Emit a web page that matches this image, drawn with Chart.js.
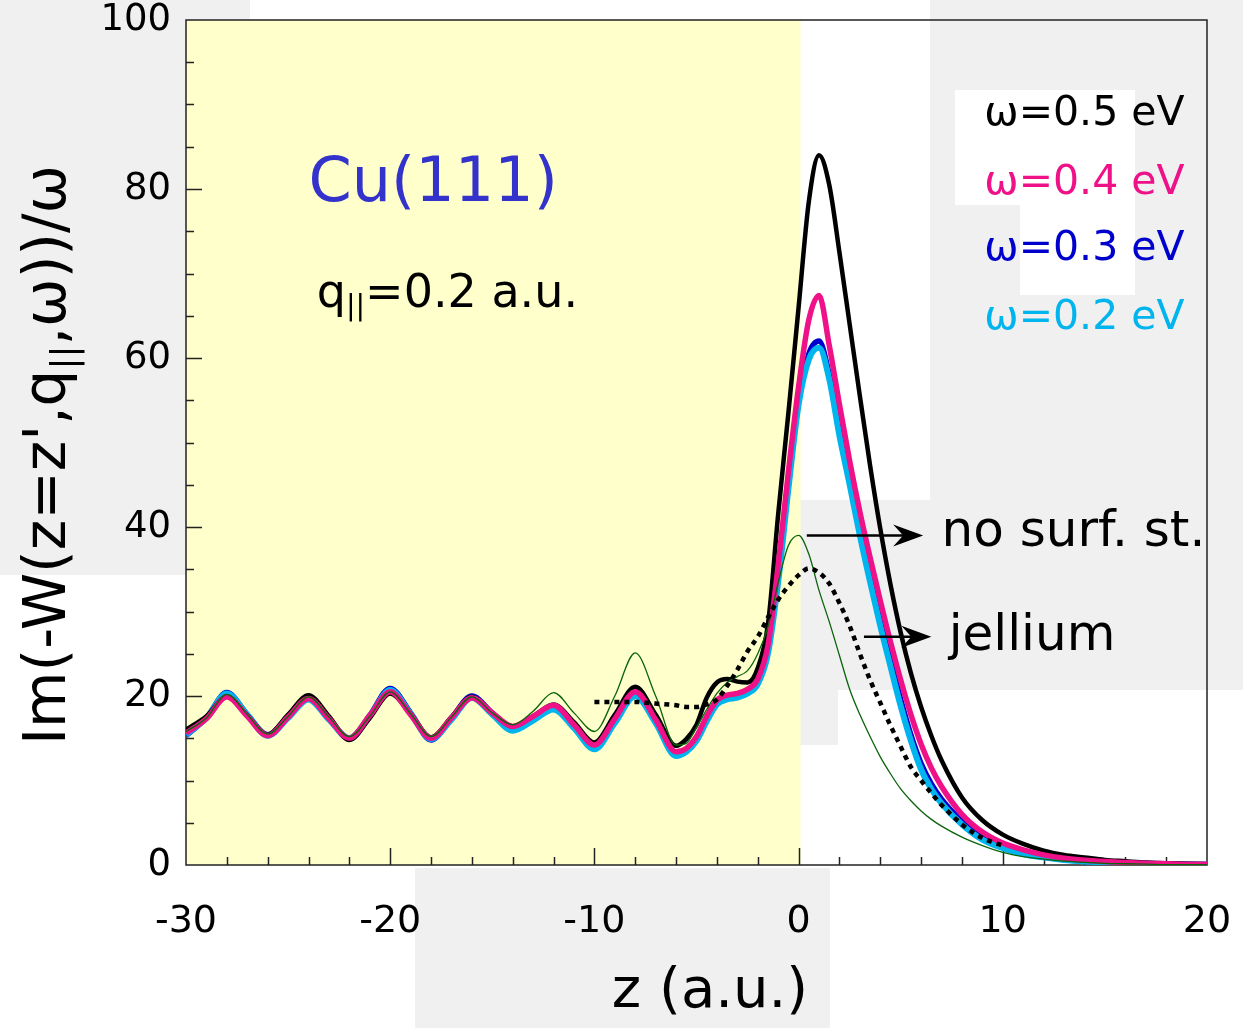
<!DOCTYPE html>
<html>
<head>
<meta charset="utf-8">
<title>Cu(111) screened interaction</title>
<script src="https://cdn.jsdelivr.net/npm/chart.js@4.4.1/dist/chart.umd.min.js"></script>
<style>
  html, body { margin: 0; padding: 0; background: #fff; }
  #wrap { width: 1243px; height: 1028px; }
</style>
</head>
<body>
<div id="wrap"><canvas id="myChart" width="1243" height="1028"></canvas></div>
<script>
// z grid (a.u.) shared by the four omega curves and the no-surface-state curve
const zAxis = [
  -30, -29, -28, -27, -26, -25, -24, -23, -22, -21, -20, -19, -18, -17, -16, -15, -14, -13, -12, -11, -10, -9, -8, -7, -6,
  -5.5, -5, -4.5, -4, -3.5, -3, -2.5, -2, -1.5, -1, -0.5, 0, 0.5, 1, 1.5, 2, 2.5, 3, 3.5, 4, 4.5, 5, 5.5, 6, 6.5, 7,
  8, 9, 10, 11, 12, 13, 14, 15, 16, 17, 18, 19, 20
];

const omega05 = [
  16.0, 17.6, 19.9, 17.7, 15.4, 17.8, 20.1, 17.6, 14.8, 17.4, 20.3, 17.9, 15.1, 17.5, 19.9, 18.0, 16.4, 17.6, 19.0, 16.9, 14.5, 17.8, 21.1, 17.8, 14.1,
  14.9, 16.6, 19.8, 21.6, 22.0, 21.7, 21.6, 23.3, 28.5, 41.5, 53.5, 66.0, 78.5, 84.0, 80.5, 72.5, 64.0, 55.5, 47.3, 39.8, 33.2, 27.5, 22.7, 18.7, 15.3, 12.4,
  8.0, 5.3, 3.6, 2.5, 1.7, 1.2, 0.9, 0.6, 0.45, 0.3, 0.2, 0.15, 0.1
];
const omega04 = [
  15.6, 17.3, 19.9, 17.6, 15.3, 17.5, 19.7, 17.3, 15.0, 17.7, 20.5, 17.8, 15.0, 17.4, 19.8, 18.0, 16.4, 17.6, 18.9, 16.6, 14.2, 17.3, 20.5, 17.2, 13.4,
  13.8, 15.2, 17.6, 19.5, 20.1, 20.3, 20.8, 22.0, 26.0, 35.5, 46.5, 56.6, 64.5, 67.4, 61.5, 54.5, 47.8, 41.8, 36.4, 31.3, 26.4, 21.9, 17.8, 14.3, 11.5, 9.3,
  6.0, 3.9, 2.6, 1.8, 1.2, 0.8, 0.55, 0.4, 0.3, 0.2, 0.15, 0.1, 0.1
];
const omega03 = [
  15.3, 17.4, 20.4, 17.8, 15.4, 17.6, 19.9, 17.4, 14.9, 17.7, 20.9, 18.0, 14.8, 17.4, 20.0, 18.0, 16.2, 17.3, 18.8, 16.5, 14.0, 17.1, 20.3, 17.0, 13.1,
  13.6, 15.0, 17.3, 19.3, 19.9, 20.1, 20.6, 21.7, 25.5, 34.0, 45.0, 55.0, 60.5, 62.0, 58.0, 51.5, 45.8, 39.8, 34.2, 29.0, 24.2, 19.6, 15.4, 12.0, 9.6, 7.8,
  5.2, 3.3, 2.1, 1.4, 0.95, 0.65, 0.45, 0.32, 0.23, 0.17, 0.12, 0.08, 0.05
];
const omega02 = [
  15.4, 17.4, 20.3, 17.8, 15.3, 17.4, 19.6, 17.2, 15.0, 17.6, 20.7, 17.9, 14.9, 17.2, 19.8, 17.8, 15.9, 17.1, 18.4, 16.2, 13.7, 16.8, 20.0, 16.8, 12.9,
  13.4, 14.7, 17.0, 19.0, 19.6, 19.8, 20.3, 21.4, 25.0, 33.5, 44.5, 54.5, 59.8, 61.2, 57.5, 50.8, 45.0, 39.0, 33.5, 28.3, 23.5, 18.8, 14.7, 11.3, 9.0, 7.3,
  4.8, 3.0, 2.0, 1.3, 0.9, 0.6, 0.42, 0.3, 0.22, 0.16, 0.11, 0.08, 0.05
];
const noSurfState = [
  15.8, 17.4, 20.2, 17.8, 15.5, 17.6, 19.9, 17.5, 15.2, 17.6, 20.5, 17.9, 15.2, 17.5, 19.9, 18.0, 16.6, 18.2, 20.4, 18.0, 15.8, 20.0, 25.1, 20.0, 14.2,
  14.4, 16.3, 18.4, 20.3, 21.6, 22.3, 23.0, 25.0, 28.2, 33.4, 37.8, 39.0, 36.8, 32.5, 28.8, 24.8, 20.8, 17.8, 15.2, 12.8, 10.8, 9.0, 7.6, 6.4, 5.4, 4.6,
  3.3, 2.3, 1.5, 1.0, 0.7, 0.45, 0.3, 0.2, 0.15, 0.1, 0.05, 0.05, 0.05
];

// jellium model, only drawn from z = -10 to 10
const zJellium = [
  -10, -9, -8, -7, -6, -5.5, -5, -4.5, -4, -3.5, -3, -2.5, -2, -1.5, -1, -0.5, 0, 0.5, 1, 1.5, 2,
  2.5, 3, 3.5, 4, 4.5, 5, 5.5, 6, 6.5, 7, 7.5, 8, 8.5, 9, 9.5, 10
];
const jellium = [
  19.3, 19.3, 19.3, 19.1, 18.9, 18.7, 18.7, 19.0, 19.6, 21.2, 23.1, 25.3, 27.0, 29.3, 31.4, 33.0, 34.3, 35.1, 34.6, 33.3, 31.0,
  28.3, 25.0, 21.9, 19.2, 16.5, 14.0, 11.6, 10.0, 8.5, 7.1, 5.9, 4.8, 3.9, 3.2, 2.7, 2.3
];

const omegaLabels = ['ω=0.5 eV', 'ω=0.4 eV', 'ω=0.3 eV', 'ω=0.2 eV'];
const omegaColors = ['#000000', '#ee1188', '#0000cc', '#00b4ee'];
const xTicks = [-30, -20, -10, 0, 10, 20];
const yTicks = [0, 20, 40, 60, 80, 100];
const metalEdge = [-30, 0];   // bulk side of the surface (shaded)

const FONT = "'DejaVu Sans', sans-serif";

const pts = (xs, ys) => xs.map((x, i) => ({ x, y: ys[i] }));

function arrow(ctx, x0, y, x1) {
  ctx.beginPath();
  ctx.moveTo(x0, y);
  ctx.lineTo(x1 - 10, y);
  ctx.lineWidth = 2.5;
  ctx.strokeStyle = '#000';
  ctx.stroke();
  ctx.beginPath();
  ctx.moveTo(x1, y);
  ctx.lineTo(x1 - 30, y - 11);
  ctx.lineTo(x1 - 20, y);
  ctx.lineTo(x1 - 30, y + 11);
  ctx.closePath();
  ctx.fillStyle = '#000';
  ctx.fill();
}

// text runs with optional subscripts: [[text, isSub], ...]
function runsWidth(ctx, runs, size) {
  let w = 0;
  runs.forEach(([t, sub]) => {
    ctx.font = `${sub ? size * 0.62 : size}px ${FONT}`;
    w += ctx.measureText(t).width;
  });
  return w;
}
function drawRuns(ctx, runs, x, y, size) {
  runs.forEach(([t, sub]) => {
    ctx.font = `${sub ? size * 0.62 : size}px ${FONT}`;
    ctx.fillText(t, x, sub ? y + size * 0.28 : y);
    x += ctx.measureText(t).width;
  });
}

const backdrop = {
  id: 'backdrop',
  beforeDraw(chart) {
    const { ctx, chartArea: a, scales: { x } } = chart;
    ctx.save();
    ctx.fillStyle = '#ffffff';
    ctx.fillRect(0, 0, chart.width, chart.height);
    // pale logo blocks in the page background
    ctx.fillStyle = '#f0f0f0';
    [[0, 0, 186, 575], [0, 0, 250, 20], [930, 0, 313, 690], [800, 500, 130, 190],
     [800, 500, 38, 245], [415, 868, 415, 160]].forEach(r => ctx.fillRect(...r));
    ctx.fillStyle = '#ffffff';
    ctx.fillRect(955, 90, 180, 115);
    ctx.fillRect(1020, 200, 115, 95);
    // metal side
    const x0 = x.getPixelForValue(metalEdge[0]);
    const x1 = x.getPixelForValue(metalEdge[1]);
    ctx.fillStyle = '#ffffcc';
    ctx.fillRect(x0, a.top, x1 - x0 + 2, a.bottom - a.top);
    ctx.restore();
  }
};

const frame = {
  id: 'frame',
  beforeDatasetsDraw(chart) {
    const { ctx, chartArea: a, scales: { x, y } } = chart;
    ctx.save();
    ctx.strokeStyle = '#222';
    ctx.lineWidth = 1.5;
    ctx.strokeRect(a.left, a.top, a.right - a.left, a.bottom - a.top);
    ctx.beginPath();
    for (let v = -28; v < 20; v += 2) {
      const px = Math.round(x.getPixelForValue(v)) + 0.5;
      const len = v % 10 === 0 ? 17 : 8;
      ctx.moveTo(px, a.bottom);
      ctx.lineTo(px, a.bottom - len);
    }
    for (let v = 5; v < 100; v += 5) {
      const py = Math.round(y.getPixelForValue(v)) + 0.5;
      const len = v % 20 === 0 ? 16 : 8;
      ctx.moveTo(a.left, py);
      ctx.lineTo(a.left + len, py);
    }
    ctx.stroke();
    ctx.restore();
  }
};

const labels = {
  id: 'labels',
  afterDraw(chart) {
    const { ctx, scales: { x, y } } = chart;
    ctx.save();
    ctx.textBaseline = 'middle';

    // frequency legend
    ctx.textAlign = 'right';
    ctx.font = `41px ${FONT}`;
    const legendY = [88.8, 80.7, 72.9, 64.7];
    omegaLabels.forEach((t, i) => {
      ctx.fillStyle = omegaColors[i];
      ctx.fillText(t, x.getPixelForValue(18.9), y.getPixelForValue(legendY[i]));
    });

    // surface label and parallel momentum
    ctx.textAlign = 'left';
    ctx.fillStyle = '#3333cc';
    ctx.font = `62px ${FONT}`;
    ctx.fillText('Cu(111)', x.getPixelForValue(-24.0), y.getPixelForValue(80.5));
    ctx.fillStyle = '#000';
    drawRuns(ctx, [['q', false], ['||', true], ['=0.2 a.u.', false]],
      x.getPixelForValue(-23.6), y.getPixelForValue(67.5), 46);

    // curve callouts
    const yA = y.getPixelForValue(39.0);
    arrow(ctx, x.getPixelForValue(0.4), yA, x.getPixelForValue(6.1));
    ctx.font = `50px ${FONT}`;
    ctx.fillStyle = '#000';
    ctx.fillText('no surf. st.', x.getPixelForValue(7.0), yA - 2);
    const yB = y.getPixelForValue(27.0);
    arrow(ctx, x.getPixelForValue(3.2), yB, x.getPixelForValue(6.5));
    ctx.font = `50px ${FONT}`;
    ctx.fillStyle = '#000';
    ctx.fillText('jellium', x.getPixelForValue(7.35), yB);

    // axis titles
    ctx.textAlign = 'center';
    ctx.font = `56px ${FONT}`;
    ctx.fillText('z (a.u.)', 710, 992);

    const title = [['Im(-W(z=z\',q', false], ['||', true], [',ω))/ω', false]];
    const size = 58;
    const w = runsWidth(ctx, title, size);
    ctx.translate(50, 455);
    ctx.rotate(-Math.PI / 2);
    ctx.textAlign = 'left';
    drawRuns(ctx, title, -w / 2, 0, size);
    ctx.restore();
  }
};

const ctx = document.getElementById('myChart').getContext('2d');

const thick = (label, data, color, width, order) => ({
  label, data: pts(zAxis, data), borderColor: color, borderWidth: width, order,
  cubicInterpolationMode: 'monotone', pointRadius: 0, fill: false
});

new Chart(ctx, {
  type: 'line',
  data: {
    datasets: [
      {
        label: 'jellium', data: pts(zJellium, jellium), borderColor: '#000', borderWidth: 4.5,
        borderDash: [5, 5], borderCapStyle: 'butt', cubicInterpolationMode: 'monotone',
        pointRadius: 0, order: 0
      },
      thick('no surf. st.', noSurfState, '#0a640a', 1.3, 1),
      thick(omegaLabels[1], omega04, omegaColors[1], 5.5, 2),
      thick(omegaLabels[0], omega05, omegaColors[0], 4.5, 3),
      thick(omegaLabels[3], omega02, omegaColors[3], 6, 4),
      thick(omegaLabels[2], omega03, omegaColors[2], 5.5, 5)
    ]
  },
  options: {
    responsive: false,
    animation: false,
    devicePixelRatio: 1,
    layout: { padding: { top: 20, right: 36, left: 0, bottom: 0 } },
    plugins: { legend: { display: false }, tooltip: { enabled: false } },
    scales: {
      x: {
        type: 'linear', min: -30, max: 20,
        afterFit: s => { s.height = 163; s.paddingLeft = 0; s.paddingRight = 0; },
        afterBuildTicks: s => { s.ticks = xTicks.map(v => ({ value: v })); },
        grid: { display: false, drawTicks: false },
        border: { display: false },
        ticks: { padding: 38, color: '#000', maxRotation: 0, autoSkip: false,
                 font: { family: FONT, size: 38, lineHeight: 1 } }
      },
      y: {
        type: 'linear', min: 0, max: 100,
        afterFit: s => { s.width = 186; s.paddingTop = 0; s.paddingBottom = 0; },
        afterBuildTicks: s => { s.ticks = yTicks.map(v => ({ value: v })); },
        grid: { display: false, drawTicks: false },
        border: { display: false },
        ticks: { padding: 15, color: '#000', autoSkip: false,
                 font: { family: FONT, size: 37, lineHeight: 1 } }
      }
    }
  },
  plugins: [backdrop, frame, labels]
});
</script>
</body>
</html>
